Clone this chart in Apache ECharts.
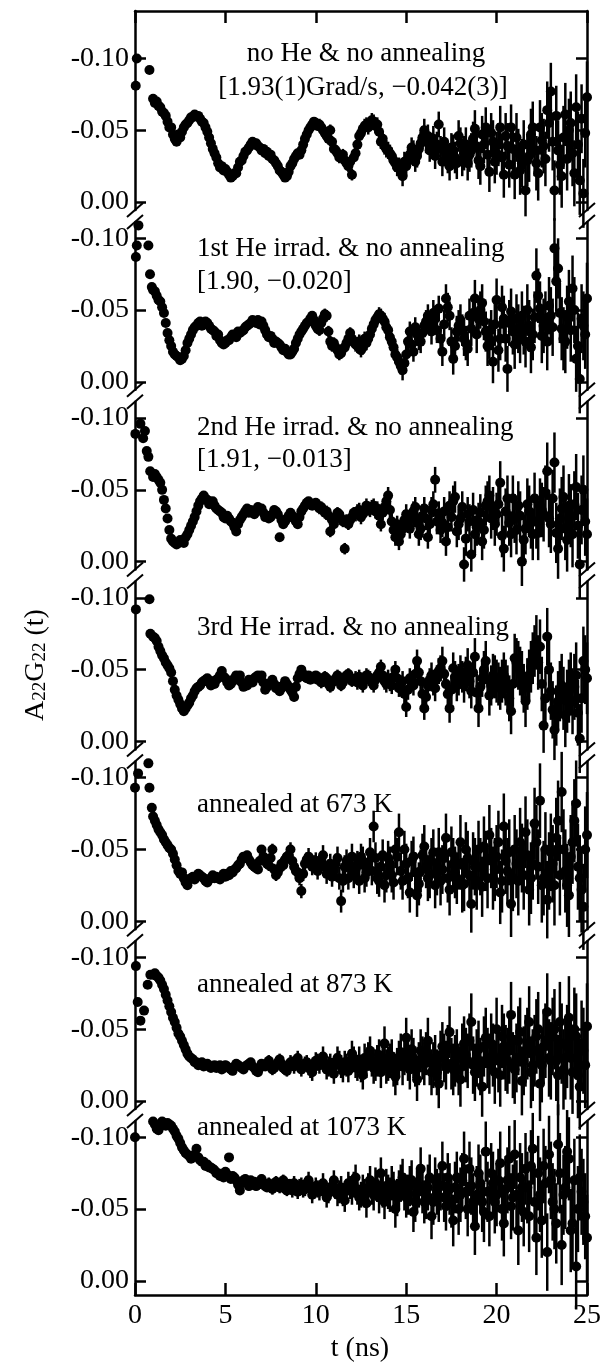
<!DOCTYPE html>
<html><head><meta charset="utf-8">
<script src="https://cdn.jsdelivr.net/npm/echarts@6/dist/echarts.min.js"></script>
<style>html,body{margin:0;padding:0;background:#fff}#c{width:605px;height:1369px}</style>
</head><body><div id="c"></div>
<script>
// time channels (ns): main channels and the interleaved channels between them
const T = [1,1.2,1.4,1.6,1.8,2,2.2,2.4,2.6,2.8,3,3.2,3.4,3.6,3.8,4,4.2,4.4,4.6,4.8,5,5.2,5.4,5.6,5.8,6,6.2,6.4,6.6,6.8,7,7.2,7.4,7.6,7.8,8,8.2,8.4,8.6,8.8,9,9.2,9.4,9.6,9.8,10,10.2,10.4,10.6,10.8,11,11.2,11.4,11.6,11.8,12,12.2,12.4,12.6,12.8,13,13.2,13.4,13.6,13.8,14,14.2,14.4,14.6,14.8,15,15.2,15.4,15.6,15.8,16,16.2,16.4,16.6,16.8,17,17.2,17.4,17.6,17.8,18,18.2,18.4,18.6,18.8,19,19.2,19.4,19.6,19.8,20,20.2,20.4,20.6,20.8,21,21.2,21.4,21.6,21.8,22,22.2,22.4,22.6,22.8,23,23.2,23.4,23.6,23.8,24,24.2,24.4,24.6,24.8,25];
const T2 = [1.1,1.3,1.5,1.7,1.9,2.1,2.3,2.5,2.7,2.9,3.1,3.3,3.5,3.7,3.9,4.1,4.3,4.5,4.7,4.9,5.1,5.3,5.5,5.7,5.9,6.1,6.3,6.5,6.7,6.9,7.1,7.3,7.5,7.7,7.9,8.1,8.3,8.5,8.7,8.9,9.1,9.3,9.5,9.7,9.9,10.1,10.3,10.5,10.7,10.9,11.1,11.3,11.5,11.7,11.9,12.1,12.3,12.5,12.7,12.9,13.1,13.3,13.5,13.7,13.9,14.1,14.3,14.5,14.7,14.9,15.1,15.3,15.5,15.7,15.9,16.1,16.3,16.5,16.7,16.9,17.1,17.3,17.5,17.7,17.9,18.1,18.3,18.5,18.7,18.9,19.1,19.3,19.5,19.7,19.9,20.1,20.3,20.5,20.7,20.9,21.1,21.3,21.5,21.7,21.9,22.1,22.3,22.5,22.7,22.9,23.1,23.3,23.5,23.7,23.9,24.1,24.3,24.5,24.7,24.9];

// all values below in units of 1e-3 (A22G22 x 1000)
const early1T = [0.04,0.1,0.8], early1V = [-81,-100,-92];
const p1 = [-72,-70,-66,-62,-56,-52,-44,-47,-49,-54,
-57,-59,-60,-58,-55,-49,-41,-34,-27,-25,
-23,-19,-18,-20,-28,-32,-36,-40,-40,-39,
-36,-34,-32,-30,-27,-22,-19,-18,-25,-30,
-34,-36,-44,-50,-54,-55,-54,-50,-46,-50,
-37,-34,-32,-29,-25,-19,-34,-46,-51,-54,
-55,-56,-54,-42,-39,-36,-32,-27,-25,-18,
-25,-33,-36,-32,-41,-50,-46,-39,-32,-54,
-28,-34,-25,-36,-27,-41,-34,-27,-36,-51,
-29,-47,-52,-21,-42,-34,-52,-19,-39,-52,
-19,-34,-27,-8,-32,-52,-27,-52,-39,-64,
-77,-8,-36,-18,-61,-50,-34,-66,-15,-6,-73];
const q1 = [-69,-67,-63,-60,-52,-47,-42,-45,-52,-55,
-59,-61,-60,-56,-52,-45,-37,-31,-24,-22,
-21,-17,-20,-24,-29,-35,-38,-42,-41,-38,
-37,-35,-33,-29,-25,-21,-17,-21,-27,-32,
-33,-40,-47,-52,-56,-53,-52,-48,-44,-42,
-36,-31,-33,-27,-28,-31,-40,-48,-53,-52,
-57,-53,-49,-44,-37,-34,-29,-24,-22,-28,
-30,-38,-28,-37,-45,-42,-36,-44,-40,-37,
-42,-30,-38,-31,-46,-29,-40,-33,-44,-38,
-25,-40,-33,-48,-28,-40,-31,-46,-26,-37,
-45,-22,-40,-29,-47,-36,-20,-43,-30,-55,
-42,-60,-26,-45,-30,-55,-20,-40,-58,-48];

const early2T = [0.05,0.1,0.19,0.74,0.83,0.93], early2V = [-87,-95,-109,-95,-75,-66];
const p2 = [-64,-60,-56,-48,-34,-25,-19,-17,-16,-22,
-30,-36,-39,-42,-40,-41,-37,-35,-33,-27,
-27,-29,-33,-31,-34,-36,-39,-41,-42,-43,
-42,-36,-31,-30,-28,-26,-22,-21,-19,-23,
-30,-35,-39,-42,-46,-39,-36,-44,-46,-28,
-27,-22,-20,-24,-30,-30,-26,-28,-24,-27,
-33,-40,-45,-46,-42,-36,-28,-19,-14,-8,
-19,-35,-21,-33,-28,-39,-46,-35,-44,-51,
-21,-58,-46,-16,-35,-43,-30,-23,-37,-58,
-44,-55,-35,-30,-14,-57,-30,-44,-9,-49,
-26,-37,-46,-28,-39,-33,-74,-51,-39,-28,
-46,-93,-79,-37,-28,-56,-65,-16,-2,-39,-58];
const q2 = [-63,-57,-52,-41,-29,-21,-18,-15,-18,-27,
-33,-38,-41,-39,-42,-39,-36,-32,-29,-26,
-29,-31,-32,-35,-35,-38,-40,-43,-41,-40,
-39,-33,-32,-27,-27,-24,-23,-19,-21,-27,
-33,-37,-41,-44,-43,-37,-41,-47,-35,-25,
-24,-19,-23,-27,-34,-28,-25,-22,-30,-30,
-37,-43,-47,-44,-38,-31,-24,-17,-11,-13,
-28,-26,-38,-30,-34,-42,-40,-48,-36,-30,
-40,-52,-28,-25,-39,-36,-27,-46,-48,-33,
-50,-42,-25,-36,-40,-22,-52,-30,-41,-35,
-44,-30,-36,-50,-24,-45,-60,-32,-44,-53,
-38,-70,-48,-30,-45,-36,-50,-25,-44,-33];

const early3T = [0.02,0.3,0.45,0.55,0.65,0.74,0.84], early3V = [-89,-96,-86,-91,-77,-73,-63];
const p3 = [-59,-59,-55,-43,-30,-16,-13,-13,-14,-17,
-22,-28,-35,-42,-46,-43,-41,-39,-36,-34,
-30,-30,-27,-21,-29,-33,-37,-36,-33,-38,
-37,-31,-30,-33,-35,-17,-26,-30,-34,-30,
-26,-35,-39,-42,-39,-41,-37,-36,-35,-21,
-26,-34,-30,-9,-26,-31,-33,-36,-33,-39,
-36,-39,-37,-26,-38,-46,-28,-17,-14,-23,
-33,-23,-35,-27,-23,-37,-17,-36,-57,-33,
-27,-14,-39,-42,-21,-30,2,-33,-5,-19,
-28,-14,-39,-46,-37,-33,-55,-9,-44,-19,
-30,-39,0,-23,-35,-19,-28,-39,-33,-63,
-26,-69,-9,-37,-23,-39,-19,-52,2,-50,-19];
const q3 = [-61,-57,-50,-37,-22,-14,-12,-15,-13,-19,
-25,-31,-39,-44,-44,-40,-42,-37,-35,-31,
-32,-28,-24,-26,-31,-35,-34,-34,-36,-36,
-34,-32,-31,-36,-33,-29,-28,-32,-32,-28,
-31,-37,-41,-40,-40,-39,-38,-34,-32,-29,
-31,-33,-28,-29,-29,-34,-35,-31,-36,-37,
-38,-35,-32,-34,-42,-36,-22,-26,-19,-29,
-28,-31,-38,-19,-32,-30,-26,-40,-28,-22,
-35,-24,-31,-45,-26,-38,-16,-28,-36,-24,
-34,-22,-42,-30,-26,-40,-18,-35,-27,-44,
-22,-32,-15,-40,-27,-44,-20,-36,-48,-30,
-44,-20,-30,-45,-15,-32,-40,-25,-36,-28];

const early4T = [0.05,0.8,0.85], early4V = [-92,-99,-75];
const p4 = [-73,-70,-63,-58,-53,-48,-36,-29,-23,-23,
-27,-32,-37,-39,-42,-44,-39,-40,-44,-49,
-44,-39,-42,-46,-46,-38,-39,-42,-44,-46,
-46,-36,-39,-43,-37,-35,-39,-40,-36,-31,
-44,-50,-45,-46,-44,-46,-44,-42,-44,-38,
-42,-46,-39,-44,-47,-42,-44,-45,-39,-46,
-44,-39,-46,-52,-42,-44,-39,-50,-37,-42,
-24,-44,-39,-56,-42,-23,-39,-46,-37,-49,
-56,-40,-23,-51,-39,-49,-39,-53,-35,-59,
-23,-44,-56,-32,-46,-42,-37,-46,-37,-21,
-58,-53,-46,-28,-46,-58,-69,-66,-11,-73,
-35,-8,-28,-39,-18,-35,-28,-46,-2,-56,-44];
const q4 = [-72,-66,-60,-55,-51,-42,-32,-26,-21,-25,
-30,-35,-38,-41,-43,-41,-42,-43,-46,-45,
-41,-40,-44,-43,-41,-40,-43,-41,-45,-44,
-41,-38,-41,-40,-38,-37,-42,-38,-34,-38,
-47,-47,-44,-43,-45,-43,-41,-45,-40,-41,
-44,-42,-41,-46,-44,-43,-41,-42,-43,-45,
-41,-43,-48,-46,-40,-41,-45,-44,-40,-33,
-36,-42,-47,-48,-33,-31,-43,-41,-44,-51,
-47,-33,-36,-45,-43,-45,-47,-42,-48,-34,
-38,-50,-43,-39,-45,-40,-42,-41,-30,-40,
-55,-49,-37,-40,-52,-63,-55,-40,-30,-50,
-22,-18,-35,-30,-28,-40,-38,-20,-30,-50];

const early5T = [0.0,0.17,0.74,0.8,0.93], early5V = [-93,-103,-110,-93,-79];
const p5 = [-73,-67,-62,-57,-53,-50,-43,-35,-34,-27,
-29,-31,-31,-32,-30,-27,-30,-30,-30,-31,
-31,-32,-34,-37,-40,-45,-46,-41,-38,-36,
-50,-42,-39,-50,-32,-37,-39,-45,-50,-38,
-34,-21,-40,-45,-38,-42,-38,-46,-33,-40,
-35,-44,-14,-38,-30,-45,-36,-28,-42,-34,
-48,-66,-30,-38,-25,-44,-32,-50,-62,-28,
-40,-20,-45,-18,-35,-52,-30,-42,-25,-48,
-36,-58,-22,-40,-30,-55,-26,-44,-12,-38,
-50,-24,-42,-60,-30,-45,-20,-66,-35,-12,
-50,-28,-44,-62,-22,-40,-55,-84,-30,-15,
-48,-25,-70,-90,-35,-18,-55,-82,-30,-10,-60];
const q5 = [-70,-64,-60,-55,-51,-47,-39,-33,-30,-25,
-30,-29,-33,-31,-28,-29,-32,-31,-29,-33,
-33,-35,-36,-39,-43,-44,-43,-39,-37,-42,
-45,-40,-44,-36,-34,-40,-43,-46,-42,-35,
-30,-33,-43,-41,-40,-35,-43,-38,-36,-31,
-40,-30,-28,-42,-38,-32,-40,-45,-30,-40,
-35,-44,-28,-46,-32,-40,-27,-45,-35,-50,
-30,-42,-34,-26,-46,-38,-32,-48,-34,-28,
-44,-30,-48,-34,-40,-25,-50,-32,-42,-28,
-38,-52,-30,-44,-36,-55,-28,-42,-48,-30,
-40,-55,-32,-46,-30,-68,-38,-25,-50,-35,
-40,-58,-32,-50,-25,-45,-70,-38,-22,-50];

const early6T = [0.05,0.15,0.3,0.5,0.7,0.85], early6V = [-94,-69,-56,-63,-81,-88];
const p6 = [-88,-87,-84,-78,-70,-62,-55,-47,-42,-36,
-31,-29,-27,-26,-24,-26,-23,-25,-24,-22,
-25,-23,-21,-26,-24,-22,-25,-27,-23,-20,
-26,-24,-28,-22,-25,-29,-23,-21,-27,-24,
-30,-22,-26,-24,-20,-28,-25,-31,-22,-26,
-19,-30,-24,-27,-21,-33,-25,-29,-18,-26,
-35,-23,-28,-20,-40,-26,-31,-17,-29,-24,
-44,-22,-30,-15,-35,-26,-42,-20,-30,-12,
-38,-25,-48,-22,-32,-15,-40,-28,-55,-20,
-36,-10,-44,-26,-32,-50,-18,-38,-28,-60,
-22,-42,-14,-35,-55,-25,-45,-12,-38,-62,
-28,-50,-18,-40,-30,-58,-20,-45,-10,-35,-52];
const q6 = [-89,-86,-81,-74,-66,-58,-51,-45,-39,-33,
-30,-27,-25,-27,-25,-24,-24,-23,-25,-23,
-24,-22,-24,-25,-23,-24,-26,-24,-21,-23,
-25,-26,-24,-23,-27,-26,-22,-25,-26,-27,
-25,-24,-27,-22,-24,-27,-28,-26,-24,-23,
-26,-27,-21,-25,-28,-29,-23,-22,-30,-31,
-27,-25,-32,-30,-24,-28,-22,-24,-34,-31,
-28,-36,-24,-26,-30,-33,-27,-25,-20,-32,
-30,-36,-26,-28,-22,-35,-32,-42,-25,-30,
-24,-38,-30,-40,-20,-28,-45,-30,-35,-25,
-30,-48,-28,-40,-20,-35,-50,-25,-42,-30,
-45,-28,-55,-22,-38,-30,-50,-18,-40,-25];

const early7T = [0.0], early7V = [-100];
const p7 = [-111,-106,-108,-110,-110,-108,-104,-99,-93,-89,
-87,-86,-92,-84,-83,-81,-79,-77,-75,-74,
-76,-86,-73,-70,-63,-70,-68,-70,-69,-67,
-71,-66,-68,-64,-69,-65,-70,-63,-66,-68,
-62,-67,-64,-70,-60,-66,-62,-68,-58,-64,
-70,-60,-65,-56,-68,-62,-72,-58,-64,-54,
-70,-60,-66,-75,-55,-62,-68,-50,-64,-72,
-58,-66,-48,-62,-78,-55,-65,-45,-70,-58,
-80,-52,-64,-42,-72,-60,-85,-50,-66,-38,
-75,-55,-90,-45,-68,-60,-82,-40,-70,-52,
-88,-35,-65,-78,-45,-92,-30,-60,-80,-20,
-70,-50,-95,-25,-65,-85,-40,-10,-72,-55,-30];
const q7 = [-109,-105,-111,-108,-109,-106,-101,-96,-91,-88,
-85,-88,-86,-83,-80,-79,-78,-75,-73,-72,
-74,-71,-72,-67,-68,-71,-66,-67,-66,-69,
-68,-65,-66,-67,-66,-68,-64,-67,-63,-64,
-66,-63,-68,-64,-63,-64,-65,-62,-61,-66,
-64,-62,-60,-63,-65,-67,-62,-60,-61,-65,
-63,-68,-58,-62,-66,-60,-64,-58,-68,-62,
-60,-70,-55,-66,-62,-58,-72,-55,-62,-66,
-58,-72,-55,-65,-50,-70,-62,-78,-55,-60,
-68,-48,-62,-75,-55,-70,-50,-64,-85,-58,
-60,-72,-48,-65,-80,-55,-75,-42,-68,-88,
-55,-40,-75,-60,-90,-35,-70,-50,-62,-45];

// statistical error bars (1e-3 units), per channel index
const errA = [2,2,2,2,2,2,2,2,2,2,
2,2,2,2,2,2,2,2,2,2,
2,2,2,2,2,2,2,2,2,2,
2,2,2,2,2,3,3,3,3,3,
3,3,3,3,3,3,4,4,4,4,
4,4,4,4,4,4,5,5,5,5,
5,5,5,5,6,6,6,6,6,7,
7,7,7,8,8,8,8,9,9,9,
10,10,10,11,11,11,12,12,12,13,
13,13,14,14,15,15,15,16,16,16,
17,17,17,18,18,18,19,19,19,20,
20,21,21,22,22,22,23,23,24,24,25];
const errB = [2,2,2,2,2,2,2,2,2,2,
2,2,2,2,2,2,2,2,2,2,
3,3,3,3,3,3,3,3,3,3,
3,3,4,4,4,4,4,4,5,5,
5,5,5,6,6,6,6,7,7,7,
7,8,8,8,8,9,9,9,10,10,
10,11,11,11,12,12,12,13,13,13,
14,14,14,15,15,15,16,16,16,17,
17,17,18,18,18,19,19,19,20,20,
20,21,21,21,22,22,22,23,23,23,
24,24,24,25,25,25,26,26,26,27,
27,28,28,28,29,29,29,30,30,30,30];
const EARLY_ERR = 1.5;

const yTicks = [-0.10, -0.05, 0.00];
const panelTexts = [
  ['no He & no annealing', '[1.93(1)Grad/s, \u22120.042(3)]'],
  ['1st He irrad. & no annealing', '[1.90, \u22120.020]'],
  ['2nd He irrad. & no annealing', '[1.91, \u22120.013]'],
  ['3rd He irrad. & no annealing'],
  ['annealed at 673 K'],
  ['annealed at 873 K'],
  ['annealed at 1073 K']
];
const xTitle = 't (ns)';

const panels = [
  [early1T, early1V, p1, q1, errA],
  [early2T, early2V, p2, q2, errA],
  [early3T, early3V, p3, q3, errA],
  [early4T, early4V, p4, q4, errA],
  [early5T, early5V, p5, q5, errB],
  [early6T, early6V, p6, q6, errB],
  [early7T, early7V, p7, q7, errB]
];
const MILLI = 0.001;
function build(eT, eV, vals, vals2, errs) {
  const pts = [];
  eT.forEach((t, k) => pts.push([t, eV[k] * MILLI, EARLY_ERR * MILLI]));
  T.forEach((t, k) => pts.push([t, vals[k] * MILLI, errs[k] * MILLI]));
  T2.forEach((t, k) => { if (vals2[k] !== undefined) pts.push([t, vals2[k] * MILLI, errs[k] * MILLI]); });
  return pts;
}

// layout
const W = 605, L = 135, R = 587, Z0 = 202, DZ = 179.8, PXU = 1435;
const Z = i => Z0 + DZ * i;
const FONT = "'Liberation Serif', 'Times New Roman', serif";
const black = '#000';

const grids = [], xAxes = [], yAxes = [], series = [], graphics = [];
for (let i = 0; i < 7; i++) {
  const top = i === 0 ? 11 : Z(i - 1) + 20;
  const bot = i === 6 ? 1295 : Z(i) + 8;
  grids.push({ left: L, right: W - R, top: top, height: bot - top, containLabel: false, outerBoundsMode: 'none' });
  const ymin = -(Z(i) - top) / PXU, ymax = (bot - Z(i)) / PXU;
  const showX = (i === 0 || i === 6);
  xAxes.push({
    gridIndex: i, type: 'value', min: 0, max: 25, interval: 5, show: showX,
    position: i === 0 ? 'top' : 'bottom',
    axisLine: { show: true, onZero: false, lineStyle: { color: black, width: 2.5 } },
    axisTick: { show: true, inside: true, length: 12, lineStyle: { color: black, width: 2.5 } },
    axisLabel: { show: i === 6, color: black, fontSize: 28, fontFamily: FONT, margin: 7 },
    splitLine: { show: false }
  });
  ['left', 'right'].forEach(pos => {
    yAxes.push({
      gridIndex: i, type: 'value', inverse: true, min: ymin, max: ymax, position: pos,
      axisLine: { show: true, onZero: false, lineStyle: { color: black, width: 2.5 } },
      axisTick: { show: true, inside: true, length: 11, customValues: yTicks, lineStyle: { color: black, width: 2.5 } },
      axisLabel: { show: pos === 'left', customValues: yTicks, formatter: v => v.toFixed(2),
        color: black, fontSize: 28, fontFamily: FONT, margin: 6 },
      splitLine: { show: false }
    });
  });
  const pts = build(...panels[i]);
  series.push({
    type: 'custom', xAxisIndex: i, yAxisIndex: 2 * i, data: pts, z: 2,
    encode: { x: 0, y: 1 },
    renderItem: (params, api) => {
      const t = api.value(0), v = api.value(1), e = api.value(2);
      const a = api.coord([t, v - e]), b = api.coord([t, v + e]);
      return { type: 'line', shape: { x1: a[0], y1: a[1], x2: b[0], y2: b[1] },
        style: { stroke: black, lineWidth: 2.5 } };
    }
  });
  series.push({
    type: 'scatter', xAxisIndex: i, yAxisIndex: 2 * i, symbol: 'circle', symbolSize: 10,
    clip: false, z: 3, itemStyle: { color: black, opacity: 1 },
    data: pts.map(p => [p[0], p[1]])
  });
}

// axis-break slashes
for (let i = 0; i < 6; i++) {
  [Z(i) + 8, Z(i) + 20].forEach(y => {
    [L, R].forEach(x => {
      graphics.push({ type: 'line', z: 100, shape: { x1: x - 8, y1: y + 7, x2: x + 8, y2: y - 7 },
        style: { stroke: black, lineWidth: 2 } });
    });
  });
}

// panel annotations
const txtPos = [
  [[366, 54, 'center'], [363, 88, 'center']],
  [[197, 249, 'left'], [197, 282, 'left']],
  [[197, 428, 'left'], [197, 460, 'left']],
  [[197, 628, 'left']],
  [[197, 805, 'left']],
  [[197, 985, 'left']],
  [[197, 1128, 'left']]
];
panelTexts.forEach((lines, i) => {
  lines.forEach((s, k) => {
    const p = txtPos[i][k];
    graphics.push({ type: 'text', z: 100, x: p[0], y: p[1],
      style: { text: s, fill: black, font: '27px ' + FONT, textAlign: p[2], textVerticalAlign: 'middle' } });
  });
});

// axis titles
graphics.push({ type: 'text', z: 100, x: 360, y: 1349,
  style: { text: xTitle, fill: black, font: '28px ' + FONT, textAlign: 'center', textVerticalAlign: 'middle' } });
graphics.push({ type: 'text', z: 100, x: 31, y: 665, rotation: Math.PI / 2,
  style: { text: '{m|A}{s|22}{m|G}{s|22}{m| (t)}', textAlign: 'center', textVerticalAlign: 'middle',
    rich: {
      m: { fontSize: 28, fontFamily: FONT, fill: black, lineHeight: 38, verticalAlign: 'bottom' },
      s: { fontSize: 19, fontFamily: FONT, fill: black, lineHeight: 19, verticalAlign: 'bottom' }
    } } });

const chart = echarts.init(document.getElementById('c'), null, { renderer: 'canvas' });
chart.setOption({
  animation: false,
  backgroundColor: '#fff',
  grid: grids, xAxis: xAxes, yAxis: yAxes, series: series,
  graphic: { elements: graphics }
});
</script></body></html>
